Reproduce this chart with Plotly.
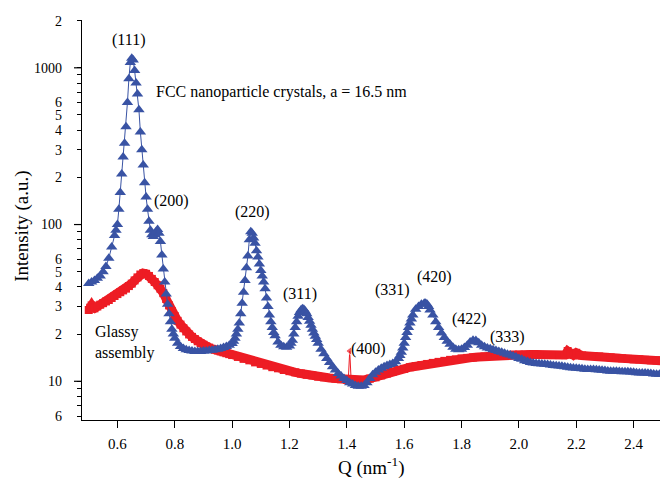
import numpy as np
import plotly.graph_objects as go

# ---- data ----
blue_q = [0.50,0.51,0.52,0.53,0.54,0.55,0.56,0.57,0.58,0.59,0.595,
          0.60,0.605,0.61,0.615,0.62,0.625,0.63,0.635,0.64,0.645,0.65,0.655,0.66,0.665,0.67,0.675,
          0.68,0.685,0.69,0.695,0.70,0.705,0.71,0.715,0.72,0.725,0.73,0.735,0.74,0.745,0.75,0.755,
          0.76,0.765,0.77,0.775,0.78,0.785,0.79,0.795,0.80,0.81,0.82,0.83,0.84,0.85,0.86,0.87,0.88,
          0.89,0.90,0.91,0.92,0.93,0.94,0.95,0.96,0.97,0.98,0.99,1.00,1.005,1.01,1.015,1.02,1.025,
          1.03,1.035,1.04,1.045,1.05,1.055,1.06,1.065,1.07,1.075,1.08,1.085,1.09,1.095,1.10,1.105,
          1.11,1.115,1.12,1.125,1.13,1.135,1.14,1.145,1.15,1.16,1.17,1.18,1.19,1.20,1.205,1.21,
          1.215,1.22,1.225,1.23,1.235,1.24,1.245,1.25,1.255,1.26,1.265,1.27,1.275,1.28,1.285,1.29,
          1.295,1.30,1.31,1.32,1.33,1.34,1.35,1.36,1.37,1.38,1.39,1.40,1.41,1.42,1.43,1.44,1.45,
          1.46,1.47,1.48,1.49,1.50,1.51,1.52,1.53,1.54,1.55,1.56,1.57,1.58,1.585,1.59,1.595,1.60,
          1.605,1.61,1.615,1.62,1.625,1.63,1.64,1.65,1.66,1.67,1.675,1.68,1.685,1.69,1.70,1.71,
          1.72,1.73,1.74,1.75,1.76,1.77,1.78,1.79,1.80,1.81,1.82,1.83,1.84,1.85,1.86,1.87,1.88,
          1.89,1.90,1.91,1.92,1.93,1.94,1.95,1.96,1.97,1.98,1.99,2.00,2.01,2.02,2.03,2.04,2.05,
          2.06,2.07,2.08,2.09,2.10,2.11,2.12,2.13,2.14,2.15,2.16,2.17,2.18,2.19,2.20,2.21,2.22,
          2.23,2.24,2.25,2.26,2.27,2.28,2.29,2.30,2.31,2.32,2.33,2.34,2.35,2.36,2.37,2.38,2.39,
          2.40,2.41,2.42,2.43,2.44,2.45,2.46,2.47,2.48,2.49,2.50]
blue_v = [42,43,44,45.5,47,50,54,61,72,85,92,
          100,125,160,210,270,330,420,600,850,1080,1150,1120,960,800,680,540,
          390,300,240,185,150,125,105,92,86,84,86,90,93,88,78,64,
          52,43,36,31,27,24,21.5,20,18.8,17.5,16.7,16.2,15.9,15.7,15.6,15.5,15.5,
          15.5,15.6,15.6,15.7,15.8,15.9,16.0,16.2,16.4,16.7,17.0,17.4,18,18.8,20,21.5,23.5,
          27,31.5,37,44,53,63,80,90,88,82,76,68,62,56,51,47,
          43,39,34,30,26.5,24,22,20.5,19.5,17.8,17,16.6,16.5,16.8,17.5,18.3,
          20,22,24,26,27.5,28.5,29,28.8,28,27,25.5,24.2,22.8,21.5,20.3,19.4,
          18.5,17.5,16,15,14,13.2,12.4,11.8,11.2,10.8,10.4,10.1,9.8,9.6,9.4,9.3,9.3,
          9.4,9.8,10.4,11.0,11.4,11.8,12.1,12.4,12.6,12.8,13,13.3,14,14.6,15.3,16.3,17.5,
          19,20.5,22,23.5,25,26.5,28.8,30,31,31.5,31.5,31,30,28.5,26.5,24,
          22,20.3,19,18,17.2,16.5,16,15.9,16,16.4,17,17.8,18.3,18.2,17.6,17,16.6,
          16.3,16.1,15.9,15.7,15.5,15.3,15.1,14.9,14.7,14.5,14.3,14.0,13.8,13.5,13.35,13.2,13.1,
          13.0,12.95,12.9,12.85,12.8,12.7,12.6,12.55,12.5,12.45,12.4,12.3,12.2,12.15,12.1,12.05,12.0,
          11.95,11.9,11.9,11.9,11.85,11.8,11.75,11.7,11.65,11.6,11.6,11.6,11.55,11.5,11.5,11.5,11.45,
          11.4,11.35,11.3,11.3,11.3,11.25,11.2,11.15,11.1,11.1,11.1]

red_q = [0.50,0.505,0.51,0.515,0.52,0.53,0.54,0.55,0.56,0.57,0.58,0.59,0.60,0.61,0.62,0.63,
         0.64,0.65,0.66,0.67,0.68,0.69,0.70,0.71,0.72,0.73,0.74,0.75,0.76,0.77,0.78,0.79,0.80,
         0.81,0.82,0.83,0.84,0.85,0.86,0.87,0.88,0.89,0.90,0.91,0.92,0.93,0.94,0.95,0.96,0.97,
         0.98,0.99,1.00,1.02,1.04,1.06,1.08,1.10,1.12,1.14,1.16,1.18,1.20,1.22,1.24,1.26,1.28,
         1.30,1.32,1.34,1.36,1.38,1.40,1.42,1.44,1.46,1.48,1.50,1.52,1.54,1.56,
         1.58,1.60,1.62,1.64,1.66,1.68,1.70,1.72,1.74,1.76,1.78,1.80,1.82,1.84,1.86,1.88,1.90,
         1.92,1.94,1.96,1.98,2.00,2.02,2.04,2.06,2.08,2.10,2.12,2.14,2.16,2.17,2.18,2.19,2.20,
         2.21,2.22,2.24,2.26,2.28,2.30,2.32,2.34,2.36,2.38,2.40,2.42,2.44,2.46,2.48,2.50]
red_v = [28.5,29.5,30.5,29.5,29.2,30,30.8,31.5,32.3,33,34,35,36,37,38,39,
         40.5,42,44,46,48,49,48.5,47,45,43,41,39,36.5,33.5,30.5,28,26,
         24.3,23,21.8,20.8,19.9,19.2,18.6,18.0,17.5,17.1,16.7,16.4,16.1,15.9,15.7,15.5,15.3,
         15.1,14.9,14.7,14.3,13.9,13.6,13.2,12.9,12.6,12.3,12.1,11.8,11.6,11.4,11.2,11.0,10.9,
         10.7,10.6,10.5,10.4,10.3,10.2,10.1,10.1,10.2,10.4,10.6,10.9,11.2,11.5,
         11.8,12.0,12.3,12.5,12.7,12.9,13.1,13.3,13.5,13.7,13.8,14.0,14.1,14.2,14.3,14.4,14.5,
         14.6,14.7,14.7,14.8,14.8,14.8,14.8,14.8,14.7,14.7,14.7,14.7,14.7,15.6,14.8,14.7,15.2,
         14.6,14.6,14.5,14.5,14.4,14.3,14.2,14.1,14.0,13.9,13.8,13.8,13.7,13.6,13.6,13.5]

# narrow (400) spike on the glassy curve
spike_q = [1.405, 1.41, 1.415]
spike_v = [10.2, 15.6, 10.2]

peak_labels = ["(111)", "(200)", "(220)", "(311)", "(331)", "(420)", "(422)", "(333)", "(400)"]
peak_label_q = [0.639, 0.789, 1.072, 1.238, 1.558, 1.707, 1.827, 1.960, 1.477]
peak_label_logv = [3.179, 2.150, 2.080, 1.556, 1.581, 1.665, 1.396, 1.281, 1.204]

ytick_vals = [6, 7, 8, 9, 10, 20, 30, 40, 50, 60, 70, 80, 90, 100, 200, 300, 400, 500, 600, 700, 800, 900, 1000, 2000]
ytick_text = ["6", "", "", "", "10", "2", "3", "4", "5", "6", "", "", "", "100", "2", "3", "4", "5", "6", "", "", "", "1000", "2"]
xtick_vals = [0.6, 0.8, 1.0, 1.2, 1.4, 1.6, 1.8, 2.0, 2.2, 2.4]
xtick_text = ["0.6", "0.8", "1.0", "1.2", "1.4", "1.6", "1.8", "2.0", "2.2", "2.4"]

BLUE = "#3953a4"
RED = "#ed1c24"
FONT = "Liberation Serif, Times New Roman, DejaVu Serif, serif"

xr = [0.4765, 2.492]
yr = [0.753, 3.305]

fig = go.Figure()
fig.add_trace(go.Scatter(x=red_q, y=red_v, mode="lines+markers",
                         line=dict(color=RED, width=9),
                         marker=dict(symbol="square", size=8, color=RED),
                         showlegend=False))
fig.add_trace(go.Scatter(x=spike_q, y=spike_v, mode="lines+markers",
                         line=dict(color=RED, width=1),
                         marker=dict(symbol="triangle-left", size=[0, 8, 0], color=RED),
                         showlegend=False))
fig.add_trace(go.Scatter(x=blue_q, y=blue_v, mode="lines+markers",
                         line=dict(color=BLUE, width=1),
                         marker=dict(symbol="triangle-up", size=10, color=BLUE),
                         showlegend=False))

annotations = []
for t, q, lv in zip(peak_labels, peak_label_q, peak_label_logv):
    annotations.append(dict(x=q, y=lv, xref="x", yref="y", text=t, showarrow=False,
                            xanchor="center", yanchor="middle",
                            font=dict(family=FONT, size=16, color="black")))
annotations.append(dict(x=0.7266, y=2.847, xref="x", yref="y", xanchor="left", yanchor="middle",
                        text="FCC nanoparticle crystals, a = 16.5 nm", showarrow=False,
                        font=dict(family=FONT, size=16, color="black")))
annotations.append(dict(x=0.5149, y=1.313, xref="x", yref="y", xanchor="left", yanchor="middle",
                        text="Glassy", showarrow=False,
                        font=dict(family=FONT, size=16, color="black")))
annotations.append(dict(x=0.5149, y=1.179, xref="x", yref="y", xanchor="left", yanchor="middle",
                        text="assembly", showarrow=False,
                        font=dict(family=FONT, size=16, color="black")))

L, R, T, B = 82.3, 0, 20, 59.3
W, H = 660, 479
pw, ph = W - L - R, H - T - B

# axis titles (positioned in paper coordinates)
annotations.append(dict(x=(22 - L) / pw, y=(H - B - 226) / ph, xref="paper", yref="paper",
                        xanchor="center", yanchor="middle", showarrow=False,
                        text="Intensity (a.u.)", textangle=-90,
                        font=dict(family=FONT, size=19, color="black")))
annotations.append(dict(x=(371 - L) / pw, y=(H - B - 466) / ph, xref="paper", yref="paper",
                        xanchor="center", yanchor="middle", showarrow=False,
                        text="Q (nm<sup>-1</sup>)",
                        font=dict(family=FONT, size=19, color="black")))

# long ticks at decades
shapes = []
for dec in [10, 100, 1000]:
    yp = (np.log10(dec) - yr[0]) / (yr[1] - yr[0])
    shapes.append(dict(type="line", xref="paper", yref="paper", x0=-8 / pw, x1=0,
                       y0=yp, y1=yp, line=dict(color="black", width=1.2)))

fig.update_layout(
    width=W, height=H,
    margin=dict(l=L, r=R, t=T, b=B),
    paper_bgcolor="white", plot_bgcolor="white",
    annotations=annotations, shapes=shapes,
    font=dict(family=FONT, size=15, color="black"),
)
fig.update_xaxes(range=xr, showgrid=False, zeroline=False, showline=True, linecolor="black",
                 linewidth=1.3, ticks="outside", ticklen=7, tickwidth=1.2, tickcolor="black",
                 tickmode="array", tickvals=xtick_vals, ticktext=xtick_text,
                 tickfont=dict(family=FONT, size=15), ticklabelstandoff=3)
fig.update_yaxes(type="log", range=yr, showgrid=False, zeroline=False, showline=True,
                 linecolor="black", linewidth=1.3, ticks="outside", ticklen=4, tickwidth=1.2,
                 tickcolor="black", tickmode="array", tickvals=ytick_vals, ticktext=ytick_text,
                 tickfont=dict(family=FONT, size=14), ticklabelstandoff=12)

fig.write_html("out.html", config={"displayModeBar": False},
               post_script="document.body.style.margin='0px';")
